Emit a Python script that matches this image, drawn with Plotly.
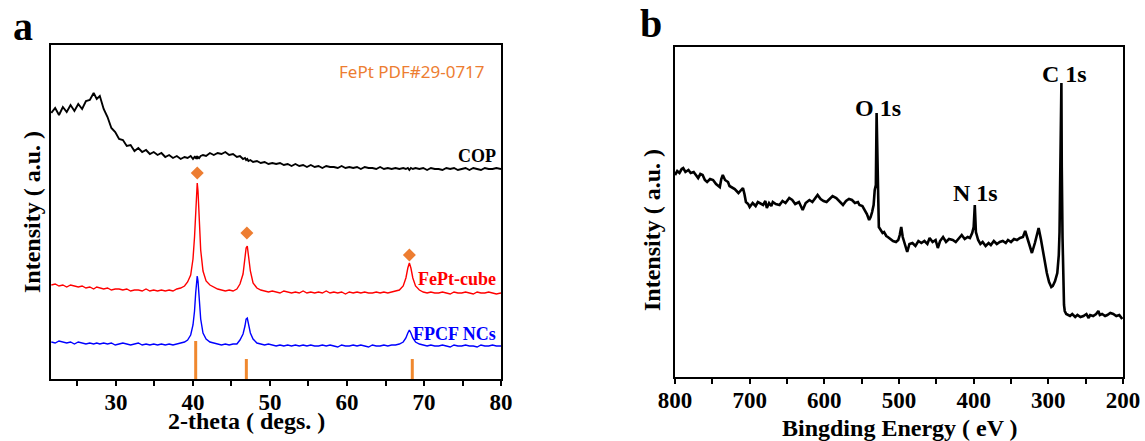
import plotly.graph_objects as go

# ---------------- Panel a : XRD ----------------
xrd_theta = [
    21.6, 22.1, 22.6, 23.1, 23.6, 24.1, 24.6, 25.1, 25.6, 26.1,
    26.6, 27.1, 27.5, 27.9, 28.4, 28.9, 29.4, 29.9, 30.4, 30.9,
    31.4, 31.9, 32.4, 32.9, 33.4, 33.9, 34.4, 34.9, 35.4, 35.9,
    36.4, 36.9, 37.4, 37.9, 38.4, 38.9, 39.3, 39.7, 40.0, 40.2,
    40.35, 40.45, 40.55, 40.65, 40.8, 41.0, 41.3, 41.7, 42.2, 42.7,
    43.2, 43.7, 44.2, 44.7, 45.2, 45.7, 46.1, 46.5, 46.75, 46.9,
    47.05, 47.2, 47.45, 47.8, 48.3, 48.8, 49.3, 49.8, 50.3, 50.8,
    51.3, 51.8, 52.3, 52.8, 53.3, 53.8, 54.3, 54.8, 55.3, 55.8,
    56.3, 56.8, 57.3, 57.8, 58.3, 58.8, 59.3, 59.8, 60.3, 60.8,
    61.3, 61.8, 62.3, 62.8, 63.3, 63.8, 64.3, 64.8, 65.3, 65.8,
    66.3, 66.8, 67.3, 67.65, 67.9, 68.1, 68.3, 68.55, 68.9, 69.4,
    69.9, 70.4, 70.9, 71.4, 71.9, 72.4, 72.9, 73.4, 73.9, 74.4,
    74.9, 75.4, 75.9, 76.4, 76.9, 77.4, 77.9, 78.4, 78.9, 79.4,
    80.0,
]
cop_intensity = [
    266, 271, 264, 272, 267, 274, 268, 275, 270, 278,
    279, 286, 280, 283, 270, 262, 251, 247, 240, 239,
    233, 234, 228, 231, 227, 229, 225, 227, 224, 226,
    222, 224, 221, 223, 220, 222, 221, 223, 220, 222,
    221, 223, 220, 222, 221, 223, 224, 223, 226, 224,
    226, 225, 227, 224, 225, 222, 223, 220, 221, 219,
    220, 218, 219, 217, 218, 216, 217, 215, 216, 215,
    216, 214, 215, 213, 215, 213, 214, 212, 214, 212,
    213, 211, 213, 212, 212, 211, 213, 211, 212, 211,
    212, 210, 212, 211, 211, 210, 212, 210, 211, 210,
    211, 210, 211, 210, 211, 209, 211, 210, 211, 210,
    211, 209, 211, 210, 210, 209, 211, 210, 211, 209,
    210, 211, 209, 211, 210, 209, 211, 210, 210, 211,
    210,
]
fept_cube_intensity = [
    94, 95, 93, 94, 92, 94, 93, 92, 93, 91,
    92, 90, 92, 91, 90, 91, 89, 90, 90, 89,
    90, 88, 89, 89, 88, 90, 88, 89, 88, 89,
    88, 89, 88, 90, 91, 93, 97, 104, 120, 142,
    169, 188, 196, 188, 160, 129, 108, 98, 94, 92,
    90, 89, 88, 89, 88, 90, 95, 105, 121, 131,
    133, 125, 108, 96, 91, 89, 88, 87, 88, 87,
    86, 88, 87, 86, 87, 86, 88, 86, 87, 86,
    87, 86, 88, 86, 87, 86, 87, 85, 87, 86,
    87, 86, 87, 86, 86, 87, 86, 87, 86, 87,
    88, 89, 93, 101, 111, 116, 111, 101, 93, 89,
    87, 86, 87, 86, 86, 87, 86, 85, 87, 86,
    86, 87, 86, 85, 87, 86, 86, 87, 86, 85,
    86,
]
fpcf_intensity = [
    37, 36, 38, 37, 36, 37, 35, 37, 36, 35,
    36, 35, 36, 35, 36, 35, 36, 34, 35, 36,
    35, 34, 35, 36, 34, 35, 34, 35, 34, 35,
    34, 35, 34, 35, 36, 37, 39, 44, 54, 68,
    86, 98, 103, 98, 80, 60, 46, 40, 37, 36,
    35, 34, 35, 34, 35, 35, 39, 45, 53, 60,
    61, 56, 46, 40, 36, 35, 34, 35, 34, 33,
    34, 33, 34, 33, 34, 33, 34, 33, 34, 33,
    33, 34, 33, 34, 33, 32, 34, 33, 33, 34,
    33, 34, 33, 32, 34, 33, 33, 34, 33, 34,
    34, 35, 37, 41, 46, 49, 46, 41, 37, 35,
    34, 33, 34, 33, 33, 34, 33, 32, 34, 33,
    33, 34, 33, 33, 32, 34, 33, 33, 34, 33,
    33,
]
xrd_tick_values = [30, 40, 50, 60, 70, 80]
ref_positions = [40.35, 46.93, 68.48]
ref_heights = [38, 20, 20]
diamond_theta = [40.55, 47.0, 68.1]
diamond_intensity = [206, 146, 124]
xrd_series_names = ["COP", "FePt-cube", "FPCF NCs"]
xrd_series_colors = ["#000000", "#FF0000", "#0000FF"]
xrd_series_widths = [1.9, 1.4, 1.4]
xrd_label_y = [223, 100, 45]

# ---------------- Panel b : XPS ----------------
xps_be = [
    800, 797, 794, 791, 789, 786, 782, 779, 775, 772,
    769, 766, 763, 760, 757, 753, 749, 745, 742, 740,
    738, 736, 733, 729, 727, 724, 720, 715, 712, 709,
    707, 705, 702, 700, 696, 692, 689, 686, 682, 679,
    677, 674, 671, 669, 665, 660, 656, 652, 647, 643,
    639, 634, 631, 629, 625, 620, 616, 612, 609, 605,
    601, 597, 593, 589, 584, 580, 575, 571, 567, 563,
    559, 555, 553, 549, 546, 543, 540, 538, 536, 534,
    532.5, 531, 530, 529, 528, 527, 525, 522, 520, 517,
    515, 511, 508, 504, 501, 499, 497, 495, 493, 489,
    486, 482, 478, 474, 470, 466, 462, 459, 455, 451,
    448, 445, 441, 437, 433, 428, 424, 420, 416, 412,
    408, 405, 402, 400, 398.5, 397, 394, 391, 388, 384,
    380, 377, 373, 369, 365, 361, 357, 354, 350, 346,
    342, 338, 334, 331, 328, 326, 322, 318, 315, 313,
    310, 307, 304, 302, 299, 296, 294, 291, 288, 286,
    285, 284, 283.5, 283, 282.5, 282, 281, 279, 278, 276,
    273, 271, 268, 264, 261, 257, 253, 249, 246, 244,
    240, 236, 233, 231, 228, 224, 221, 217, 213, 209,
    205, 201,
]
xps_intensity = [
    202, 206, 204, 208, 209, 205, 207, 204, 205, 202,
    199, 203, 202, 197, 195, 198, 197, 193, 191, 190,
    198, 202, 197, 195, 191, 190, 188, 184, 187, 189,
    183, 175, 173, 170, 174, 171, 175, 174, 172, 176,
    169, 174, 171, 175, 173, 172, 176, 174, 179, 177,
    173, 175, 170, 167, 174, 177, 175, 179, 182, 178,
    176, 175, 178, 181, 179, 176, 172, 176, 178, 177,
    174, 175, 172, 171, 167, 163, 157, 160, 165, 172,
    187, 192, 264, 192, 187, 150, 147, 144, 145, 141,
    140, 138, 136, 135, 137, 142, 150, 140, 135, 125,
    133, 134, 131, 136, 134, 136, 133, 139, 135, 137,
    129, 136, 140, 135, 138, 137, 135, 139, 142, 138,
    140, 139, 144, 150, 172, 145, 137, 133, 135, 131,
    134, 132, 136, 133, 135, 136, 134, 137, 135, 138,
    137, 139, 140, 146, 138, 134, 124, 134, 145, 149,
    138, 125, 114, 104, 95, 90, 91, 96, 104, 122,
    145, 205, 215, 260, 294, 210, 140, 72, 66, 63,
    62, 61, 63, 60, 62, 60, 61, 63, 59, 62,
    61, 63, 66, 62, 63, 61, 62, 64, 63, 61,
    62, 58,
]
xps_tick_values = [800, 700, 600, 500, 400, 300, 200]
xps_peak_labels = ["O 1s", "N 1s", "C 1s"]
xps_peak_be = [528, 398, 278]
xps_peak_label_y = [269, 184, 303]

for a, b in [(xrd_theta, cop_intensity), (xrd_theta, fept_cube_intensity),
             (xrd_theta, fpcf_intensity), (xps_be, xps_intensity)]:
    if len(a) != len(b):
        raise ValueError(f"length mismatch {len(a)} vs {len(b)}")

SERIF = "Liberation Serif"
ORANGE = "#F0882E"
W, H = 1145, 441

fig = go.Figure()

for name, ys, col, lw in zip(xrd_series_names,
                             [cop_intensity, fept_cube_intensity, fpcf_intensity],
                             xrd_series_colors, xrd_series_widths):
    fig.add_trace(go.Scatter(x=xrd_theta, y=ys, mode="lines", name=name,
                             line=dict(color=col, width=lw),
                             xaxis="x", yaxis="y"))

ref_x, ref_y = [], []
for p, h in zip(ref_positions, ref_heights):
    ref_x += [p, p, None]
    ref_y += [0, h, None]
fig.add_trace(go.Scatter(x=ref_x, y=ref_y, mode="lines",
                         line=dict(color=ORANGE, width=3),
                         xaxis="x", yaxis="y"))
fig.add_trace(go.Scatter(x=diamond_theta, y=diamond_intensity, mode="markers",
                         marker=dict(symbol="diamond", size=10, color="#ED7D31"),
                         xaxis="x", yaxis="y"))

fig.add_trace(go.Scatter(x=xps_be, y=xps_intensity, mode="lines",
                         line=dict(color="black", width=2.6),
                         xaxis="x2", yaxis="y2"))

ann = []
for name, ly, col in zip(xrd_series_names, xrd_label_y, xrd_series_colors):
    ann.append(dict(x=79.55, y=ly, xref="x", yref="y", text=f"<b>{name}</b>",
                    showarrow=False, xanchor="right", yanchor="middle",
                    font=dict(family=SERIF, size=18, color=col)))
ann.append(dict(x=78.2, y=308, xref="x", yref="y", text="FePt PDF#29-0717",
                showarrow=False, xanchor="right", yanchor="middle",
                font=dict(family="Noto Sans", size=17, color="#ED7D31")))
for t, bx, by in zip(xps_peak_labels, xps_peak_be, xps_peak_label_y):
    ann.append(dict(x=bx, y=by, xref="x2", yref="y2", text=f"<b>{t}</b>",
                    showarrow=False, xanchor="center", yanchor="middle",
                    font=dict(family=SERIF, size=24, color="black")))


def paper_text(px, py, text, size, angle=0):
    return dict(x=px / W, y=1 - py / H, xref="paper", yref="paper",
                text=f"<b>{text}</b>", showarrow=False, textangle=angle,
                xanchor="center", yanchor="middle",
                font=dict(family=SERIF, size=size, color="black"))


ann += [
    paper_text(246, 421, "2-theta ( degs. )", 24),
    paper_text(900, 428, "Bingding Energy ( eV )", 24),
    paper_text(32, 212, "Intensity ( a.u. )", 24, -90),
    paper_text(652, 230, "Intensity ( a.u. )", 24, -90),
    paper_text(23, 26, "a", 40),
    paper_text(651, 24, "b", 40),
]

xcommon = dict(showline=True, linewidth=2, linecolor="black", mirror=True,
               showgrid=False, zeroline=False, ticks="outside", ticklen=5,
               tickwidth=2, tickcolor="black", tickmode="array",
               automargin=False, ticklabelstandoff=-4,
               tickfont=dict(family=SERIF, size=23, color="black"))
ycommon = dict(showline=True, linewidth=2, linecolor="black", mirror=True,
               showgrid=False, zeroline=False, showticklabels=False, ticks="",
               automargin=False)

fig.update_layout(
    template="none",
    width=W, height=H,
    margin=dict(l=0, r=0, t=0, b=0, autoexpand=False),
    plot_bgcolor="white", paper_bgcolor="white", showlegend=False,
    xaxis=dict(domain=[51 / W, 501 / W], range=[21.56, 80],
               tickvals=xrd_tick_values,
               ticktext=[f"<b>{v}</b>" for v in xrd_tick_values],
               minor=dict(tickmode="linear", dtick=5, tick0=0, ticks="outside",
                          ticklen=5, tickwidth=2, tickcolor="black",
                          showgrid=False),
               anchor="y", **xcommon),
    yaxis=dict(domain=[1 - 379 / H, 1 - 45 / H], range=[0, 334],
               anchor="x", **ycommon),
    xaxis2=dict(domain=[675 / W, 1123 / W], range=[800, 200],
                tickvals=xps_tick_values,
                ticktext=[f"<b>{v}</b>" for v in xps_tick_values],
                minor=dict(tickmode="linear", dtick=50, tick0=0,
                           ticks="outside", ticklen=5, tickwidth=2,
                           tickcolor="black", showgrid=False),
                anchor="y2", **xcommon),
    yaxis2=dict(domain=[1 - 377 / H, 1 - 47 / H], range=[0, 330],
                anchor="x2", **ycommon),
    annotations=ann,
)

fig.write_html("out.html", config={"displayModeBar": False},
               post_script="document.body.style.margin='0';"
                           "document.body.style.overflow='hidden';")
